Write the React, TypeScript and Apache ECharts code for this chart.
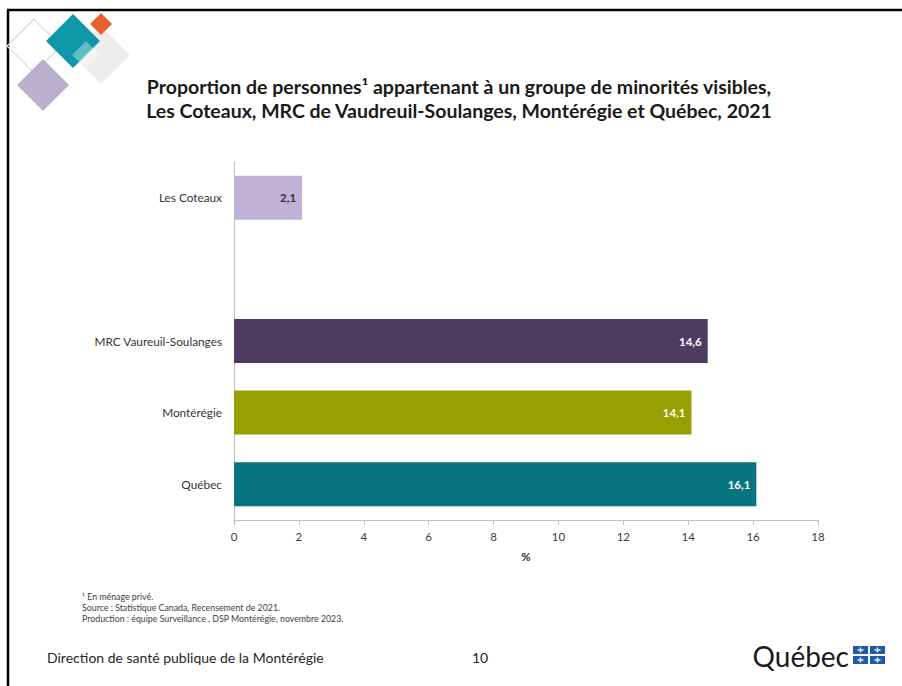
import React, { useEffect, useRef } from "react";
import * as echarts from "echarts";

const categories = ["Les Coteaux", "", "MRC Vaureuil-Soulanges", "Montérégie", "Québec"];
const values: (number | null)[] = [2.1, null, 14.6, 14.1, 16.1];
const barColors = ["#c0b2d6", "#ffffff", "#4e3b62", "#97a000", "#077482"];
const labelColors = ["#333333", "#333333", "#ffffff", "#ffffff", "#ffffff"];
const xTicks = { min: 0, max: 18, interval: 2 };
const titleLines = [
  "Proportion de personnes¹ appartenant à un groupe de minorités visibles,",
  "Les Coteaux, MRC de Vaudreuil-Soulanges, Montérégie et Québec, 2021",
];
const footnotes = [
  "¹ En ménage privé.",
  "Source : Statistique Canada, Recensement de 2021.",
  "Production : équipe Surveillance , DSP Montérégie, novembre 2023.",
];
const FONT = "Lato, 'Open Sans', sans-serif";

function diamond(cx: number, cy: number, r: number, style: any, z = 1) {
  return {
    type: "polygon",
    z,
    shape: { points: [[cx - r, cy], [cx, cy - r], [cx + r, cy], [cx, cy + r]] },
    style,
  };
}

export default function App() {
  const ref = useRef<HTMLDivElement>(null);
  useEffect(() => {
    if (!ref.current) return;
    const chart = echarts.init(ref.current, undefined, { renderer: "svg" });
    const flags: any[] = [];
    const fx = 853, fy = 646, fw = 15, fh = 8, fg = 2;
    for (let i = 0; i < 2; i++)
      for (let j = 0; j < 2; j++) {
        const x = fx + j * (fw + fg), y = fy + i * (fh + fg);
        flags.push({ type: "rect", shape: { x, y, width: fw, height: fh }, style: { fill: "#1f5aa8" } });
        flags.push({ type: "rect", shape: { x: x + fw / 2 - 0.7, y: y + 1.5, width: 1.4, height: fh - 3 }, style: { fill: "#fff" } });
        flags.push({ type: "rect", shape: { x: x + fw / 2 - 3, y: y + fh / 2 - 0.7, width: 6, height: 1.4 }, style: { fill: "#fff" } });
      }
    chart.setOption({
      animation: false,
      backgroundColor: "#ffffff",
      grid: { left: 234, right: 84, top: 162, bottom: 166, containLabel: false },
      xAxis: {
        type: "value",
        min: xTicks.min,
        max: xTicks.max,
        interval: xTicks.interval,
        name: "%",
        nameLocation: "middle",
        nameGap: 30,
        nameTextStyle: { fontFamily: FONT, fontWeight: "bold", fontSize: 11.5, color: "#333" },
        axisLine: { show: true, lineStyle: { color: "#bfbfbf" } },
        axisTick: { show: true, length: 5, lineStyle: { color: "#bfbfbf" } },
        axisLabel: { fontFamily: FONT, fontSize: 11.5, color: "#404040", margin: 10 },
        splitLine: { show: false },
      },
      yAxis: {
        type: "category",
        data: categories,
        inverse: true,
        axisLine: { show: true, lineStyle: { color: "#bfbfbf" } },
        axisTick: { show: false },
        axisLabel: { fontFamily: FONT, fontSize: 11.8, color: "#333", margin: 12 },
      },
      series: [
        {
          type: "bar",
          barWidth: 44,
          data: values.map((v, i) => ({
            value: v,
            itemStyle: { color: barColors[i] },
            label: { color: labelColors[i] },
          })),
          label: {
            show: true,
            position: "insideRight",
            distance: 6,
            fontFamily: FONT,
            fontWeight: "bold",
            fontSize: 11.5,
            formatter: (p: any) => (p.value == null ? "" : String(p.value).replace(".", ",")),
          },
        },
      ],
      graphic: [
        { type: "line", shape: { x1: 7, y1: 10, x2: 902, y2: 10 }, style: { stroke: "#000", lineWidth: 2.5 } },
        { type: "line", shape: { x1: 8, y1: 10, x2: 8, y2: 686 }, style: { stroke: "#000", lineWidth: 2.5 } },
        diamond(34, 46, 27, { fill: "none", stroke: "#d5dcd0", lineWidth: 1.2 }, 1),
        diamond(43, 85, 26, { fill: "#b8b0cc" }, 2),
        diamond(101, 55, 29, { fill: "#efedeb" }, 2),
        diamond(73, 41, 27, { fill: "#0e98a8" }, 3),
        diamond(101, 24, 11, { fill: "#e8602c" }, 4),
        {
          type: "polygon",
          z: 5,
          shape: { points: [[72, 55], [86, 41], [100, 55], [86, 68]] },
          style: { fill: "rgba(255,255,255,0.35)" },
        },
        ...titleLines.map((t, i) => ({
          type: "text",
          x: 459,
          y: 86 + i * 24.5,
          style: {
            text: t,
            textAlign: "center",
            textVerticalAlign: "middle",
            fontFamily: FONT,
            fontWeight: "bold",
            fontSize: 19.5,
            fill: "#1a1a1a",
          },
        })),
        ...footnotes.map((t, i) => ({
          type: "text",
          x: 82,
          y: 596 + i * 11,
          style: { text: t, textVerticalAlign: "middle", fontFamily: FONT, fontSize: 8.8, fill: "#404040" },
        })),
        {
          type: "text",
          x: 47,
          y: 657,
          style: { text: "Direction de santé publique de la Montérégie", textVerticalAlign: "middle", fontFamily: FONT, fontSize: 14, fill: "#262626" },
        },
        {
          type: "text",
          x: 480,
          y: 657,
          style: { text: "10", textAlign: "center", textVerticalAlign: "middle", fontFamily: FONT, fontSize: 14, fill: "#262626" },
        },
        {
          type: "text",
          x: 849,
          y: 656,
          style: { text: "Québec", textAlign: "right", textVerticalAlign: "middle", fontFamily: FONT, fontSize: 28, fill: "#1a1a1a" },
        },
        ...flags,
      ],
    });
    return () => chart.dispose();
  }, []);
  return (
    <div
      ref={ref}
      style={{ position: "fixed", left: 0, top: 0, width: 902, height: 686 }}
    />
  );
}
